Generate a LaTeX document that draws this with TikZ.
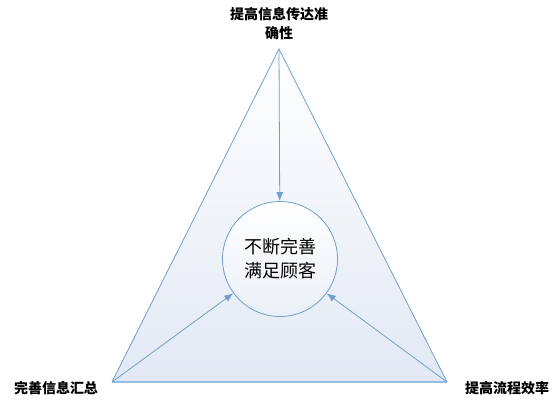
\documentclass[tikz,border=0pt]{standalone}
\usepackage{fontspec}
\newfontfamily\cjk{Noto Sans CJK SC}
\usetikzlibrary{arrows.meta}
\definecolor{edge}{RGB}{110,160,210}
\definecolor{lightfill}{RGB}{226,233,244}
\begin{document}
\begin{tikzpicture}[x=1pt,y=-1pt,
  lbl/.style={font=\cjk\bfseries\fontsize{14}{19}\selectfont,align=center,inner sep=0pt},
  arr/.style={draw=edge,line width=0.8pt,-{Latex[length=9pt,width=7pt]}}]
\useasboundingbox (0,0) rectangle (560,406);
\coordinate (T) at (279,49);
\coordinate (L) at (112,382);
\coordinate (R) at (447,382);
\shade[top color=white,bottom color=lightfill] (T) -- (L) -- (R) -- cycle;
\draw[edge,line width=0.8pt] (L) -- (T) -- (R);
\draw[edge!70,line width=1.6pt] (L) -- (R);
\node[circle,minimum size=115pt,inner sep=0pt,draw=edge,line width=0.8pt,top color=white,bottom color=lightfill!70] (C) at (280,259) {};
\node[font=\cjk\fontsize{18}{24}\selectfont,align=center] (ct) at (280,259) {不断完善\\满足顾客};
\node[lbl] (tl) at (279,24) {提高信息传达准\\确性};
\node[lbl] (ll) at (56,388) {完善信息汇总};
\node[lbl] (rl) at (507,388) {提高流程效率};
\draw[arr] (T) -- (C);
\draw[arr] (L) -- (C);
\draw[arr] (R) -- (C);
\end{tikzpicture}
\end{document}
